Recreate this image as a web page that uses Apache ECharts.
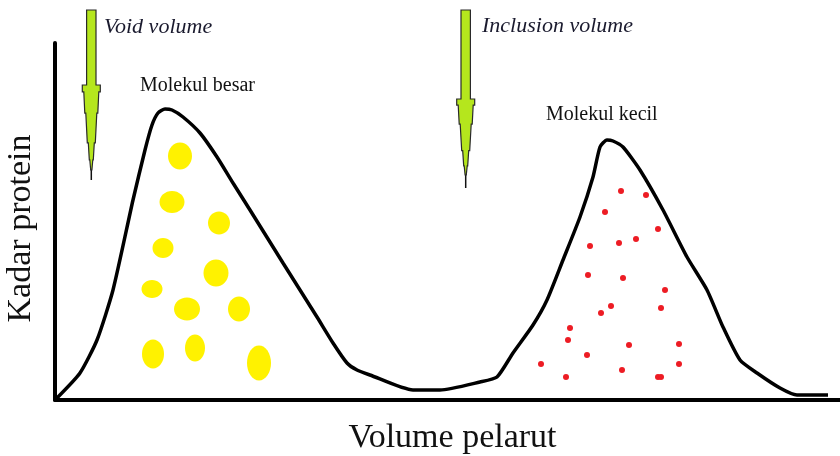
<!DOCTYPE html>
<html>
<head>
<meta charset="utf-8">
<script src="https://cdn.jsdelivr.net/npm/echarts@6/dist/echarts.min.js"></script>
<style>
  html, body { margin: 0; background: #fff; }
  #chart-container { width: 840px; height: 456px; }
</style>
</head>
<body>
<div id="chart-container"></div>
<script>
// elution profile (volume vs protein level)
var curveX = [2, 25, 42, 58, 78, 90, 97, 103, 110, 117, 128, 145, 162, 178, 195, 228, 262, 278, 292,
  302, 315, 358, 385, 425, 442, 458, 478, 492, 508, 525, 538, 545, 552, 558, 568, 585, 608, 632,
  652, 668, 685, 702, 725, 742, 773];
var curveY = [2, 27, 60, 110, 200, 250, 275, 287, 291, 290, 283, 267, 243, 217, 190, 137, 83, 57, 37,
  30, 25, 10, 10, 18, 23, 47, 75, 100, 140, 183, 223, 253, 260, 259, 253, 230, 190, 143,
  110, 73, 40, 27, 12, 5, 5];

// big molecules (yellow blobs): centre and half extents
var blobCenters = [[125, 244], [117, 198], [164, 177], [108, 152], [161, 127], [97, 111],
  [132, 91], [184, 91], [98, 46], [140, 52], [204, 37]];
var blobRadii = [[12, 13.5], [12.5, 11], [11, 11.5], [10.5, 10], [12.5, 13.5], [10.5, 9],
  [13, 11.5], [11, 12.5], [11, 14.5], [10, 13.5], [12, 17.5]];

// small molecules (red dots)
var dotPoints = [[566, 209], [591, 205], [550, 188], [603, 171], [535, 154], [564, 157], [581, 161],
  [533, 125], [568, 122], [610, 110], [556, 94], [546, 87], [606, 92], [515, 72], [513, 60],
  [574, 55], [624, 56], [532, 45], [486, 36], [567, 30], [624, 36], [511, 23], [603, 23], [606, 23]];

// arrows: x, top, neck, head tip, needle end
var arrowMarks = [[36.3, 390, 315, 230, 220], [410.7, 390, 301, 225, 212]];

var dom = document.getElementById("chart-container");
var myChart = echarts.init(dom, null, { renderer: "canvas" });

var curveData = curveX.map(function (x, i) { return [x, curveY[i]]; });
var blobData = blobCenters.map(function (c, i) { return [c[0], c[1], blobRadii[i][0], blobRadii[i][1]]; });

// stepped head of the hand drawn arrow: [fraction of head length, half width]
var headSteps = [[0, 9], [0.08, 9], [0.08, 7.5], [0.33, 6.5], [0.33, 5.5], [0.68, 4],
  [0.68, 3], [0.88, 2], [0.88, 1.5], [1, 0.6]];

function renderArrow(params, api) {
  var x = api.value(0);
  var top = api.coord([x, api.value(1)]);
  var neck = api.coord([x, api.value(2)]);
  var tip = api.coord([x, api.value(3)]);
  var end = api.coord([x, api.value(4)]);
  var cx = top[0];
  var h = tip[1] - neck[1];
  var sw = 4.7;
  var pts = [[cx - sw, top[1]], [cx + sw, top[1]], [cx + sw, neck[1]]];
  headSteps.forEach(function (s) { pts.push([cx + s[1], neck[1] + s[0] * h]); });
  headSteps.slice().reverse().forEach(function (s) { pts.push([cx - s[1], neck[1] + s[0] * h]); });
  pts.push([cx - sw, neck[1]]);
  return {
    type: "group",
    children: [
      {
        type: "line",
        shape: { x1: cx, y1: tip[1] - 4, x2: cx, y2: end[1] },
        style: { stroke: "#111", lineWidth: 1.5 },
      },
      {
        type: "polygon",
        shape: { points: pts },
        style: { fill: "#b5e61d", stroke: "#2a2a2a", lineWidth: 1.2 },
      },
    ],
  };
}

function renderBlob(params, api) {
  var c = api.coord([api.value(0), api.value(1)]);
  var r = api.size([api.value(2), api.value(3)]);
  return {
    type: "ellipse",
    shape: { cx: c[0], cy: c[1], rx: r[0], ry: r[1] },
    style: { fill: "#fff200" },
  };
}

var serif = "'Liberation Serif', 'DejaVu Serif', serif";

var option = {
  animation: false,
  backgroundColor: "#fff",
  grid: { left: 55, right: 0, top: 43, bottom: 56, outerBoundsMode: "none" },
  xAxis: {
    type: "value",
    min: 0,
    max: 785,
    name: "Volume pelarut",
    nameLocation: "middle",
    nameGap: 21,
    nameTextStyle: { fontFamily: serif, fontSize: 34, color: "#111", padding: [0, 0, 0, 10] },
    axisLine: { show: true, onZero: false, lineStyle: { color: "#000", width: 4 } },
    axisTick: { show: false },
    axisLabel: { show: false },
    splitLine: { show: false },
  },
  yAxis: {
    type: "value",
    min: 0,
    max: 357,
    name: "Kadar protein",
    nameLocation: "middle",
    nameGap: 17,
    nameTextStyle: { fontFamily: serif, fontSize: 34, color: "#111", padding: [0, 14, 0, 0] },
    axisLine: { show: true, lineStyle: { color: "#000", width: 4 } },
    axisTick: { show: false },
    axisLabel: { show: false },
    splitLine: { show: false },
  },
  graphic: [
    { type: "text", left: 104, top: 16, style: { text: "Void volume", font: "italic 22px " + serif, fill: "#1a1a2e" } },
    { type: "text", left: 482, top: 15, style: { text: "Inclusion volume", font: "italic 22px " + serif, fill: "#1a1a2e" } },
    { type: "text", left: 140, top: 76, style: { text: "Molekul besar", font: "20px " + serif, fill: "#111" } },
    { type: "text", left: 546, top: 105, style: { text: "Molekul kecil", font: "20px " + serif, fill: "#111" } },
  ],
  series: [
    {
      type: "custom",
      renderItem: renderBlob,
      data: blobData,
      encode: { x: 0, y: 1 },
      silent: true,
      z: 1,
    },
    {
      type: "scatter",
      data: dotPoints,
      symbol: "circle",
      symbolSize: 6,
      itemStyle: { color: "#ed1c24", opacity: 1 },
      silent: true,
      z: 2,
    },
    {
      type: "line",
      data: curveData,
      smooth: 0.2,
      showSymbol: false,
      lineStyle: { color: "#000", width: 3.5 },
      silent: true,
      z: 3,
    },
    {
      type: "custom",
      renderItem: renderArrow,
      data: arrowMarks,
      encode: { x: 0, y: 1 },
      silent: true,
      z: 4,
    },
  ],
};

if (option && typeof option === "object") {
  myChart.setOption(option);
}
</script>
</body>
</html>
